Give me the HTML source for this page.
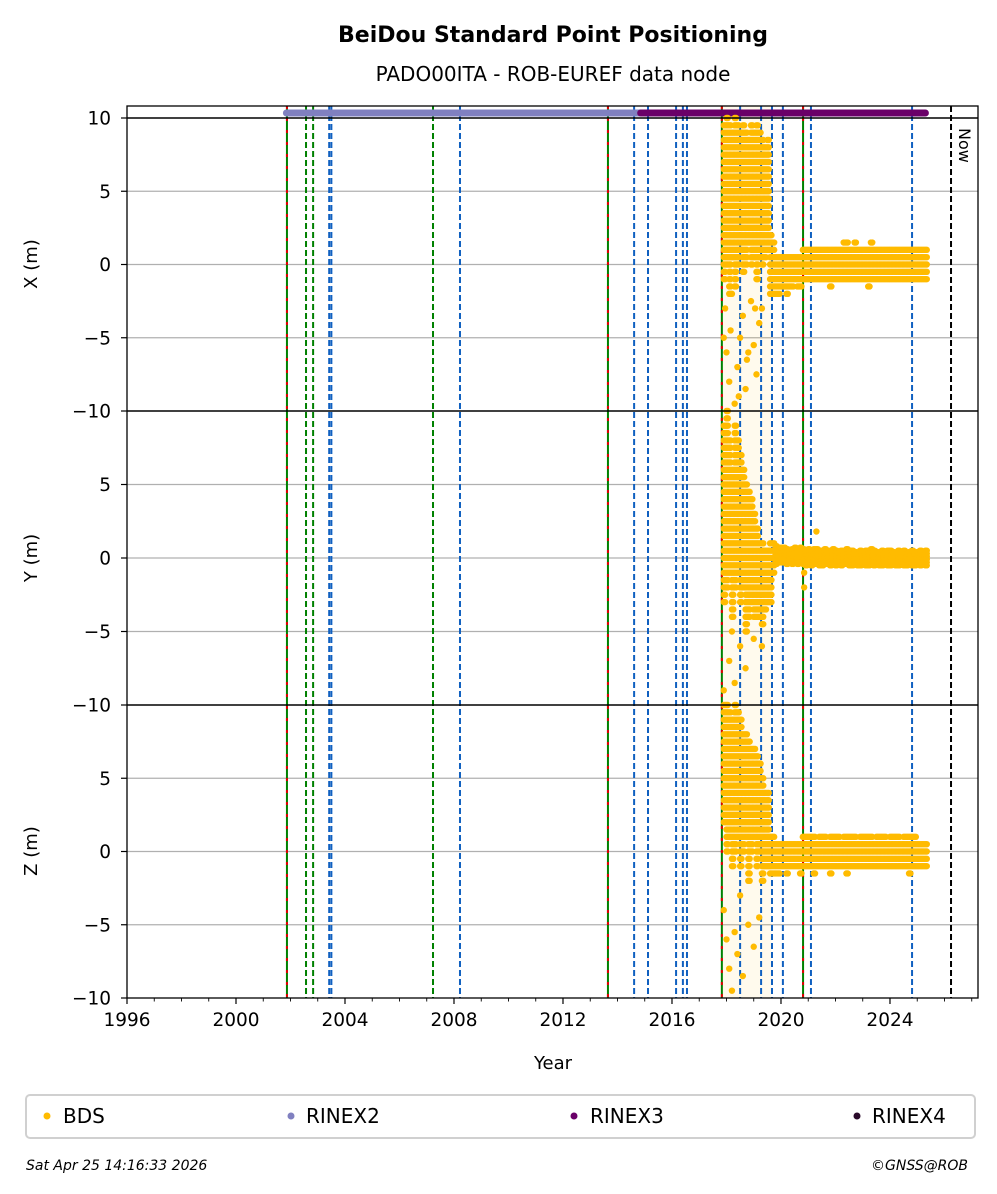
<!DOCTYPE html>
<html><head><meta charset="utf-8">
<style>
html,body{margin:0;padding:0;background:#fff;}
svg{display:block;font-family:"DejaVu Sans","Liberation Sans",sans-serif;}
</style></head>
<body>
<svg id="chart" width="997" height="1194" viewBox="0 0 997 1194" xmlns="http://www.w3.org/2000/svg">
<text x="553" y="42" text-anchor="middle" font-size="22" font-weight="bold">BeiDou Standard Point Positioning</text>
<text x="553" y="81" text-anchor="middle" font-size="20">PADO00ITA - ROB-EUREF data node</text>
<g id="grid"></g>
<g id="vlines"></g>
<g id="data"></g>
<g id="frame"></g>
<text x="553" y="1069" text-anchor="middle" font-size="18">Year</text>
<text transform="translate(37,264) rotate(-90)" text-anchor="middle" font-size="18">X (m)</text>
<text transform="translate(37,558) rotate(-90)" text-anchor="middle" font-size="18">Y (m)</text>
<text transform="translate(37,851) rotate(-90)" text-anchor="middle" font-size="18">Z (m)</text>
<text transform="translate(959,128) rotate(90)" font-size="16">Now</text>
<g>
<rect x="26" y="1095" width="949" height="43" rx="4" fill="#fff" stroke="#d0d0d0" stroke-width="2"/>
<circle cx="47" cy="1116" r="3.5" fill="#ffbb00"/>
<text x="63" y="1123" font-size="20">BDS</text>
<circle cx="291" cy="1116" r="3.5" fill="#8080c0"/>
<text x="306" y="1123" font-size="20">RINEX2</text>
<circle cx="574" cy="1116" r="3.5" fill="#6a0068"/>
<text x="590" y="1123" font-size="20">RINEX3</text>
<circle cx="857" cy="1116" r="3.5" fill="#2a0a2a"/>
<text x="872" y="1123" font-size="20">RINEX4</text>
</g>
<text x="26" y="1170" font-size="14" font-style="italic">Sat Apr 25 14:16:33 2026</text>
<text x="968" y="1170" text-anchor="end" font-size="14" font-style="italic">©GNSS@ROB</text>
</svg>
<script>
const times=[2017.9,2018.0,2018.1,2018.2,2018.3,2018.4,2018.5,2018.6,2018.7,2018.8,2018.9,2019.0,2019.1,2019.2,2019.3,2019.4,2019.5,2019.6,2019.7,
2019.8,2019.9,2020.0,2020.1,2020.2,2020.3,2020.4,2020.5,2020.6,2020.7,2020.8,2020.9,2021.0,2021.1,2021.2,2021.3,2021.4,2021.5,2021.6,2021.7,2021.8,2021.9,2022.0,2022.1,2022.2,2022.3,2022.4,2022.5,2022.6,2022.7,2022.8,2022.9,2023.0,2023.1,2023.2,2023.3,2023.4,2023.5,2023.6,2023.7,2023.8,2023.9,2024.0,2024.1,2024.2,2024.3,2024.4,2024.5,2024.6,2024.7,2024.8,2024.9,2025.0,2025.1,2025.2,2025.3];
const xHi=[9.5,10,9.5,9,10,9.5,9,9.5,9,8.5,9.5,9,9.5,9,8.5,8,8.5,2,1.5,
0.5,0.5,0.5,0.5,0.5,0.5,0.5,0.5,0.5,0.5,1,1,1,1,1,1,1,1,1,1,1,1,1,1,1,1.5,1.5,1,1,1.5,1,1,1,1,1,1.5,1,1,1,1,1,1,1,1,1,1,1,1,1,1,1,1,1,1,1,1];
const xLo=[-1,0,-2,0.5,-1.5,0,1,-0.5,0,1.5,0,0.5,-1,0.5,0,0.5,1,-2,-2,
-2,-2,-1.5,-1.5,-2,-1.5,-1.5,-1,-1.5,-1.5,-1,-1,-1,-1,-1,-1,-1,-1,-1,-1,-1.5,-1,-1,-1,-1,-1,-1,-1,-1,-1,-1,-1,-1,-1,-1.5,-1,-1,-1,-1,-1,-1,-1,-1,-1,-1,-1,-1,-1,-1,-1,-1,-1,-1,-1,-1,-1];
const yHi=[9,10,8,6,9,8,7,6,5,4.5,4,3,2,1,1,0.5,0.5,1,1,
0.8,0.7,0.7,0.7,0.6,0.6,0.6,0.7,0.6,0.7,0.6,0.6,0.6,0.5,0.6,0.7,0.6,0.5,0.6,0.5,0.5,0.6,0.6,0.5,0.5,0.5,0.6,0.5,0.5,0.5,0.4,0.5,0.5,0.5,0.5,0.6,0.5,0.4,0.4,0.5,0.4,0.5,0.5,0.4,0.4,0.5,0.4,0.5,0.4,0.5,0.5,0.4,0.4,0.5,0.5,0.5];
const yLo=[-3,-2,-1,-4,-2,-1,-3,-2,-5,-4,-3,-4,-4,-4,-4.5,-3.5,-3,-3,-1,
-0.4,-0.3,-0.3,-0.3,-0.4,-0.3,-0.4,-0.3,-0.4,-0.3,-0.4,-0.5,-0.4,-0.5,-0.4,-0.4,-0.5,-0.5,-0.4,-0.4,-0.5,-0.4,-0.5,-0.4,-0.5,-0.4,-0.4,-0.5,-0.5,-0.4,-0.5,-0.5,-0.4,-0.5,-0.5,-0.4,-0.5,-0.4,-0.5,-0.5,-0.4,-0.5,-0.5,-0.4,-0.5,-0.5,-0.4,-0.5,-0.5,-0.4,-0.5,-0.5,-0.4,-0.5,-0.4,-0.5];
const zHi=[10,10,9.5,9,10,9.5,9,8,8,7.5,7,7,6.5,6,5,4,4,1,1,
0.5,0.5,0.5,0.5,0.5,0.5,0.5,0.5,0.5,0.5,1,1,1,1,1,0.5,1,1,1,0.5,1,1,1,1,0.5,1,1,1,1,1,0.5,1,1,1,1,1,0.5,1,1,1,1,0.5,1,1,1,1,0.5,1,1,1,1,1,0.5,0.5,0.5,0.5];
const zLo=[2,0,1,-1,0,1,-1,0,1,-2,0,1,-1,0,-2,-1,-1,-1.5,-1.5,
-1.5,-1.5,-1,-1,-1.5,-1,-1,-1,-1,-1.5,-1,-1,-1,-1,-1.5,-1,-1,-1,-1,-1,-1.5,-1,-1,-1,-1,-1,-1.5,-1,-1,-1,-1,-1,-1,-1,-1,-1,-1,-1,-1,-1,-1,-1,-1,-1,-1,-1,-1,-1,-1,-1.5,-1,-1,-1,-1,-1,-1];
const xOutT=[2017.9,2017.95,2018.0,2018.1,2018.15,2018.2,2018.3,2018.4,2018.45,2018.5,2018.6,2018.7,2018.75,2018.8,2018.9,2019.0,2019.05,2019.1,2019.2,2019.3];
const xOutV=[-5,-3,-6,-8,-4.5,-2,-9.5,-7,-9,-5,-3.5,-8.5,-6.5,-6,-2.5,-5.5,-3,-7.5,-4,-3];
const yOutT=[2017.9,2018.1,2018.2,2018.3,2018.5,2018.7,2019.0,2019.3,2020.85,2020.85,2021.3];
const yOutV=[-9,-7,-5,-8.5,-6,-7.5,-5.5,-6,-1,-2,1.8];
const zOutT=[2017.9,2018.0,2018.1,2018.2,2018.3,2018.4,2018.5,2018.6,2018.8,2019.0,2019.2];
const zOutV=[-4,-6,-8,-9.5,-5.5,-7,-3,-8.5,-5,-6.5,-4.5];
const xTicks=[1996,2000,2004,2008,2012,2016,2020,2024];
const yTicks=[10,5,0,-5,-10];
const rinex2Span=[2001.85,2014.85];
const rinex3Span=[2014.85,2025.3];
const redGreenLines=[2001.87,2013.65,2017.83,2020.81];
const greenLines=[2002.57,2002.83,2007.23];
const blueLines=[2003.42,2003.5,2008.22,2014.61,2015.12,2016.15,2016.4,2016.55,2018.5,2019.27,2019.67,2020.07,2021.1,2024.81];
const nowYear=2026.24;

const NS='http://www.w3.org/2000/svg';
const L=127,R=978,T=106,B=998;
const panels=[{top:118,bot:411},{top:411,bot:705},{top:705,bot:998}];
function xs(t){return L+(t-1996)*(R-L)/(2027.23-1996);}
function ys(v,p){const P=panels[p];return P.top+(10-v)*(P.bot-P.top)/20;}
function mk(tag,attrs,parent){const e=document.createElementNS(NS,tag);for(const k in attrs)e.setAttribute(k,attrs[k]);parent.appendChild(e);return e;}
const grid=document.getElementById('grid'),vl=document.getElementById('vlines'),dg=document.getElementById('data'),fr=document.getElementById('frame');

panels.forEach((P,p)=>{[5,0,-5].forEach(v=>{const l=mk('line',{x1:L,x2:R,y1:ys(v,p),y2:ys(v,p),stroke:'#b0b0b0','stroke-width':1.3},grid);

});});
const sh=mk('rect',{x:xs(2017.85),y:T,width:xs(2019.65)-xs(2017.85),height:B-T,fill:'#ffbb00','fill-opacity':0.07},grid);


function vline(t,color,dash,w,name){const l=mk('line',{x1:xs(t),x2:xs(t),y1:T,y2:B,stroke:color,'stroke-width':w,'stroke-dasharray':dash},vl);

}
greenLines.forEach(t=>vline(t,'#008000','6 3',2,'green-event-line'));
blueLines.forEach(t=>vline(t,'#1060c0','6 3',2,'blue-event-line'));
redGreenLines.forEach(t=>{vline(t,'#008000','none',2,'green-solid-event-line');vline(t,'#dd0000','3 9',2,'red-event-line');});
vline(nowYear,'#000','6 3',2,'now-line');

const r2=mk('line',{x1:xs(rinex2Span[0]),x2:xs(rinex2Span[1]),y1:113,y2:113,stroke:'#8080c0','stroke-width':7,'stroke-linecap':'round'},dg);


const r3=mk('line',{x1:xs(rinex3Span[0]),x2:xs(rinex3Span[1]),y1:113,y2:113,stroke:'#6a0068','stroke-width':7,'stroke-linecap':'round'},dg);



function dot(t,v,p,name){if(v>10.3||v<-10)return;const c=mk('circle',{cx:xs(t),cy:ys(v,p),r:3.2,fill:'#ffbb00'},dg);

}
[[xLo,xHi,0,'bds-x-point'],[yLo,yHi,1,'bds-y-point'],[zLo,zHi,2,'bds-z-point']].forEach(([lo,hi,p,name])=>{
  times.forEach((t,i)=>{const step=(p===1&&i>=19)?0.2:0.5;for(let v=lo[i];v<=hi[i]+1e-6;v+=step){dot(t,v,p,name);dot(t+0.05,v,p,name);}});
});
xOutT.forEach((t,i)=>dot(t,xOutV[i],0,'bds-x-outlier'));
yOutT.forEach((t,i)=>dot(t,yOutV[i],1,'bds-y-outlier'));
zOutT.forEach((t,i)=>dot(t,zOutV[i],2,'bds-z-outlier'));

const fb=mk('rect',{x:L,y:T,width:R-L,height:B-T,fill:'none',stroke:'#000','stroke-width':1.3},fr);


[118,411,705].forEach(y=>{const l=mk('line',{x1:L,x2:R,y1:y,y2:y,stroke:'#000','stroke-width':1.6},fr);

});
panels.forEach((P,p)=>{yTicks.forEach(v=>{if(p>0&&v===10)return;const y=ys(v,p);
 const tk=mk('line',{x1:L-6,x2:L,y1:y,y2:y,stroke:'#000','stroke-width':1.2},fr);
 
 
 const tx=mk('text',{x:L-16,y:y+6.5,'text-anchor':'end','font-size':18.5},fr);tx.textContent=String(v).replace('-','\u2212');
 
 });});
for(let yr=1996;yr<=2027;yr++){const x=xs(yr);const major=xTicks.includes(yr);
 const tk=mk('line',{x1:x,x2:x,y1:B,y2:B+(major?6:3.5),stroke:'#000','stroke-width':major?1.2:0.9},fr);
 
 }
xTicks.forEach(yr=>{const tx=mk('text',{x:xs(yr),y:B+28,'text-anchor':'middle','font-size':18.5},fr);tx.textContent=yr;
 
 });
</script>
</body></html>
